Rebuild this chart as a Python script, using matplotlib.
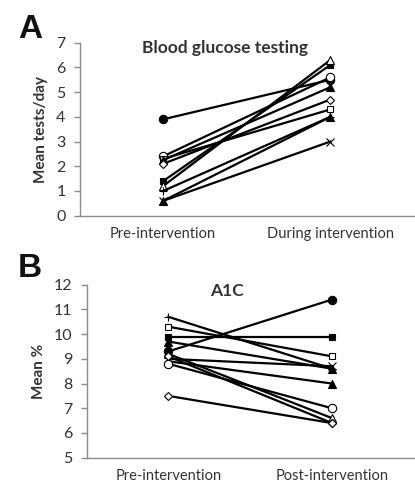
import matplotlib
matplotlib.use("Agg")
import matplotlib.pyplot as plt

plt.rcParams['font.family'] = ['Lato', 'DejaVu Sans']

# Panel A: blood glucose testing (mean tests/day)
a_categories = ["Pre-intervention", "During intervention"]
a_markers = ["o", "o", "s", "^", "D", "s", "^", "+", "^", "x"]
a_filled = [True, False, False, True, False, True, False, False, True, False]
a_pre = [3.9, 2.4, 2.3, 2.25, 2.1, 1.4, 1.2, 1.0, 0.6, 0.6]
a_post = [5.5, 5.6, 4.3, 5.2, 4.7, 6.1, 6.3, 4.0, 4.0, 3.0]

# Panel B: A1C (mean %)
b_categories = ["Pre-intervention", "Post-intervention"]
b_markers = ["+", "s", "s", "^", "o", "^", "x", "^", "o", "D", "D"]
b_filled = [False, False, True, True, True, False, False, True, False, False, False]
b_pre = [10.7, 10.3, 9.9, 9.7, 9.3, 9.2, 9.0, 8.9, 8.8, 9.1, 7.5]
b_post = [8.6, 9.1, 9.9, 8.6, 11.4, 6.6, 8.7, 8.0, 7.0, 6.4, 6.4]

W, H = 415, 484
fig = plt.figure(figsize=(W / 100, H / 100), dpi=100)

spine_col = "#8c8c8c"
text_col = "#333333"


def style(ax, ylim, yticks, cats):
    for s in ["top", "right"]:
        ax.spines[s].set_visible(False)
    for s in ["left", "bottom"]:
        ax.spines[s].set_color(spine_col)
        ax.spines[s].set_linewidth(1.0)
    ax.set_xlim(-0.5, 1.5)
    ax.set_ylim(*ylim)
    ax.set_yticks(yticks)
    ax.set_xticks([0, 1])
    ax.set_xticklabels(cats)
    ax.tick_params(axis="y", direction="out", length=4, width=1, color=spine_col,
                   labelsize=11.5, labelcolor=text_col, pad=6)
    ax.tick_params(axis="x", length=0, labelsize=10.5, labelcolor=text_col, pad=8)


def draw(ax, pre, post, markers, filled):
    for p, q, m, f in zip(pre, post, markers, filled):
        ms = {"o": 6.0, "s": 5.0, "^": 5.5, "D": 4.2, "+": 6.0, "x": 5.5}[m]
        fc = "black" if f else "white"
        ax.plot([0, 1], [p, q], color="black", linewidth=1.6,
                marker=m, markersize=ms, markerfacecolor=fc,
                markeredgecolor="black", markeredgewidth=0.8, zorder=3)


ax1 = fig.add_axes([79.5 / W, 1 - 215.7 / H, (414 - 79.5) / W, 173 / H])
style(ax1, (0, 7), range(0, 8), a_categories)
draw(ax1, a_pre, a_post, a_markers, a_filled)
ax1.set_ylabel("Mean tests/day", fontsize=11, fontweight="bold", color=text_col, labelpad=6)
ax1.text(0.435, 0.97, "Blood glucose testing", transform=ax1.transAxes, ha="center",
         va="center", fontsize=12.5, fontweight="bold", color=text_col)

ax2 = fig.add_axes([86.5 / W, 1 - 457.7 / H, (414 - 86.5) / W, 173 / H])
style(ax2, (5, 12), range(5, 13), b_categories)
draw(ax2, b_pre, b_post, b_markers, b_filled)
ax2.set_ylabel("Mean %", fontsize=11, fontweight="bold", color=text_col, labelpad=6)
ax2.text(0.43, 0.962, "A1C", transform=ax2.transAxes, ha="center",
         va="center", fontsize=12.5, fontweight="bold", color=text_col)

fig.text(18 / W, 1 - 38 / H, "A", fontsize=24, fontweight="bold",
         family=["Liberation Sans", "DejaVu Sans"], color="#111111", ha="left", va="baseline")
fig.text(18 / W, 1 - 277 / H, "B", fontsize=24, fontweight="bold",
         family=["Liberation Sans", "DejaVu Sans"], color="#111111", ha="left", va="baseline")

fig.savefig("out.png", dpi=100)
